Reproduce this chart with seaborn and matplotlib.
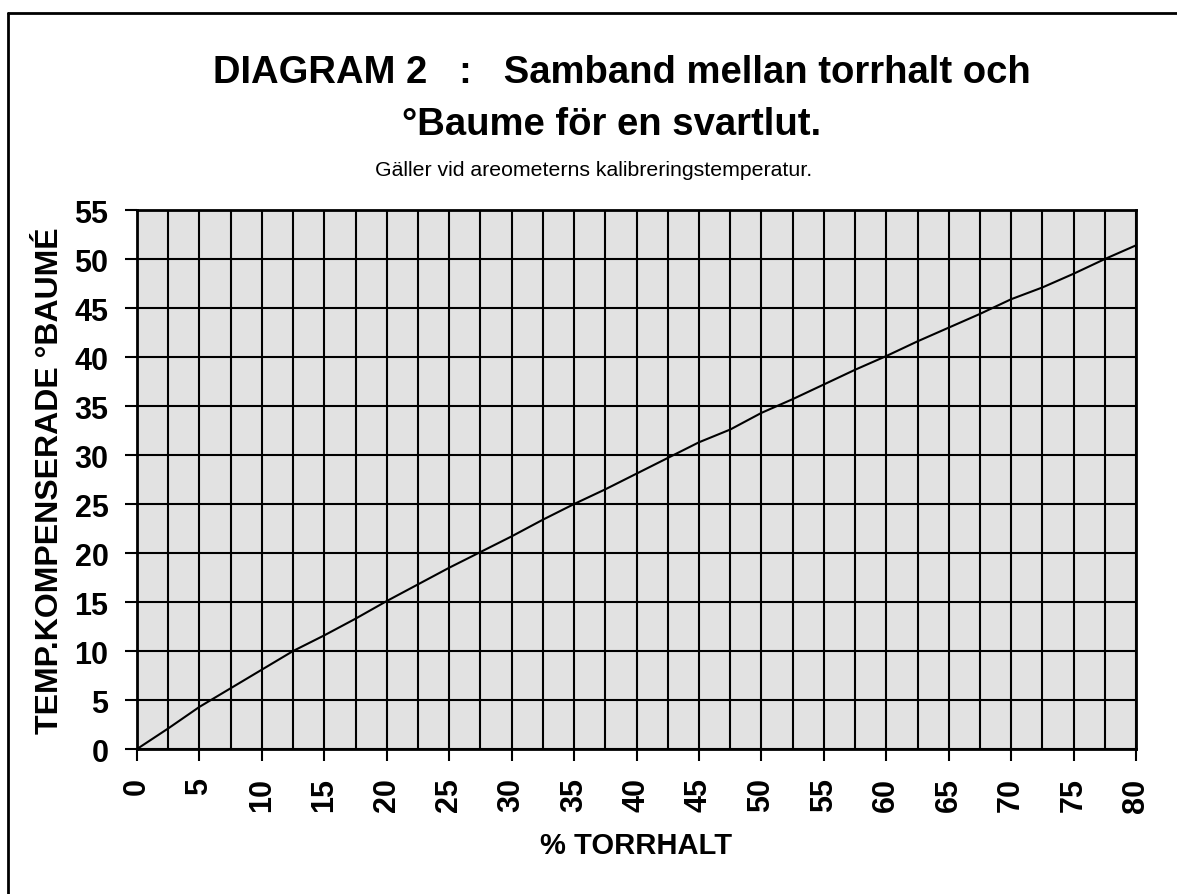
import matplotlib
matplotlib.use("Agg")
import matplotlib.pyplot as plt
import seaborn as sns
import pandas as pd
from matplotlib.ticker import MultipleLocator

# Data
torrhalt = [0, 2.5, 5, 7.5, 10, 12.5, 15, 17.5, 20, 22.5, 25, 27.5, 30, 32.5,
            35, 37.5, 40, 42.5, 45, 47.5, 50, 52.5, 55, 57.5, 60, 62.5, 65,
            67.5, 70, 72.5, 75, 77.5, 80]
baume = [0, 2.1, 4.3, 6.2, 8.1, 10.0, 11.6, 13.3, 15.1, 16.8, 18.5, 20.1, 21.7,
         23.4, 25.0, 26.5, 28.1, 29.7, 31.3, 32.6, 34.3, 35.7, 37.2, 38.7, 40.1,
         41.6, 43.0, 44.4, 45.9, 47.1, 48.5, 50.0, 51.4]

x_ticks = list(range(0, 85, 5))
y_ticks = list(range(0, 60, 5))

df = pd.DataFrame({"torrhalt": torrhalt, "baume": baume})

sns.set_theme(style="white")
plt.rcParams['font.family'] = ['Liberation Sans', 'DejaVu Sans']
plt.rcParams['text.color'] = 'black'
plt.rcParams['axes.labelcolor'] = 'black'
plt.rcParams['xtick.color'] = 'black'
plt.rcParams['ytick.color'] = 'black'
plt.rcParams['xtick.bottom'] = True
plt.rcParams['ytick.left'] = True

fig = plt.figure(figsize=(11.77, 8.95), dpi=100)
ax = fig.add_axes([0.1164, 0.162, 0.8488, 0.6022])
ax.set_facecolor("#e2e2e2")

# grid
ax.xaxis.set_major_locator(MultipleLocator(5))
ax.xaxis.set_minor_locator(MultipleLocator(2.5))
ax.yaxis.set_major_locator(MultipleLocator(5))
ax.grid(which="both", axis="x", color="black", linewidth=1.5)
ax.grid(which="major", axis="y", color="black", linewidth=1.5)
ax.set_axisbelow(True)

sns.lineplot(data=df, x="torrhalt", y="baume", color="black", linewidth=1.5, ax=ax)

ax.set_xlim(0, 80)
ax.set_ylim(0, 55)
ax.set_xticks(x_ticks)
ax.set_yticks(y_ticks)
ax.set_xticklabels([str(v) for v in x_ticks], rotation=90, fontsize=22, fontweight="bold")
ax.set_yticklabels([str(v) for v in y_ticks], fontsize=22, fontweight="bold")
ax.tick_params(axis="both", which="major", direction="out", length=8.5, width=1.5,
               color="black", pad=12, bottom=True, left=True)
ax.tick_params(axis="x", which="minor", length=0)

for s in ax.spines.values():
    s.set_color("black")
    s.set_linewidth(2)

ax.set_xlabel("% TORRHALT", fontsize=21, fontweight="bold", labelpad=14)
ax.set_ylabel("TEMP.KOMPENSERADE °BAUMÉ", fontsize=23, fontweight="bold", labelpad=7)

# titles
fig.text(0.528, 0.918, "DIAGRAM 2   :   Samband mellan torrhalt och",
         ha="center", va="center", fontsize=27.5, fontweight="bold")
fig.text(0.52, 0.86, "°Baume för en svartlut.",
         ha="center", va="center", fontsize=27.5, fontweight="bold")
fig.text(0.504, 0.81, "Gäller vid areometerns kalibreringstemperatur.",
         ha="center", va="center", fontsize=15.3)

# frame on left and top edges
fig.add_artist(plt.Line2D([0.0068, 0.0068], [0, 0.9844], color="black", linewidth=2,
                          transform=fig.transFigure))
fig.add_artist(plt.Line2D([0.0068, 1], [0.9844, 0.9844], color="black", linewidth=2,
                          transform=fig.transFigure))

fig.savefig("out.png", dpi=100)
